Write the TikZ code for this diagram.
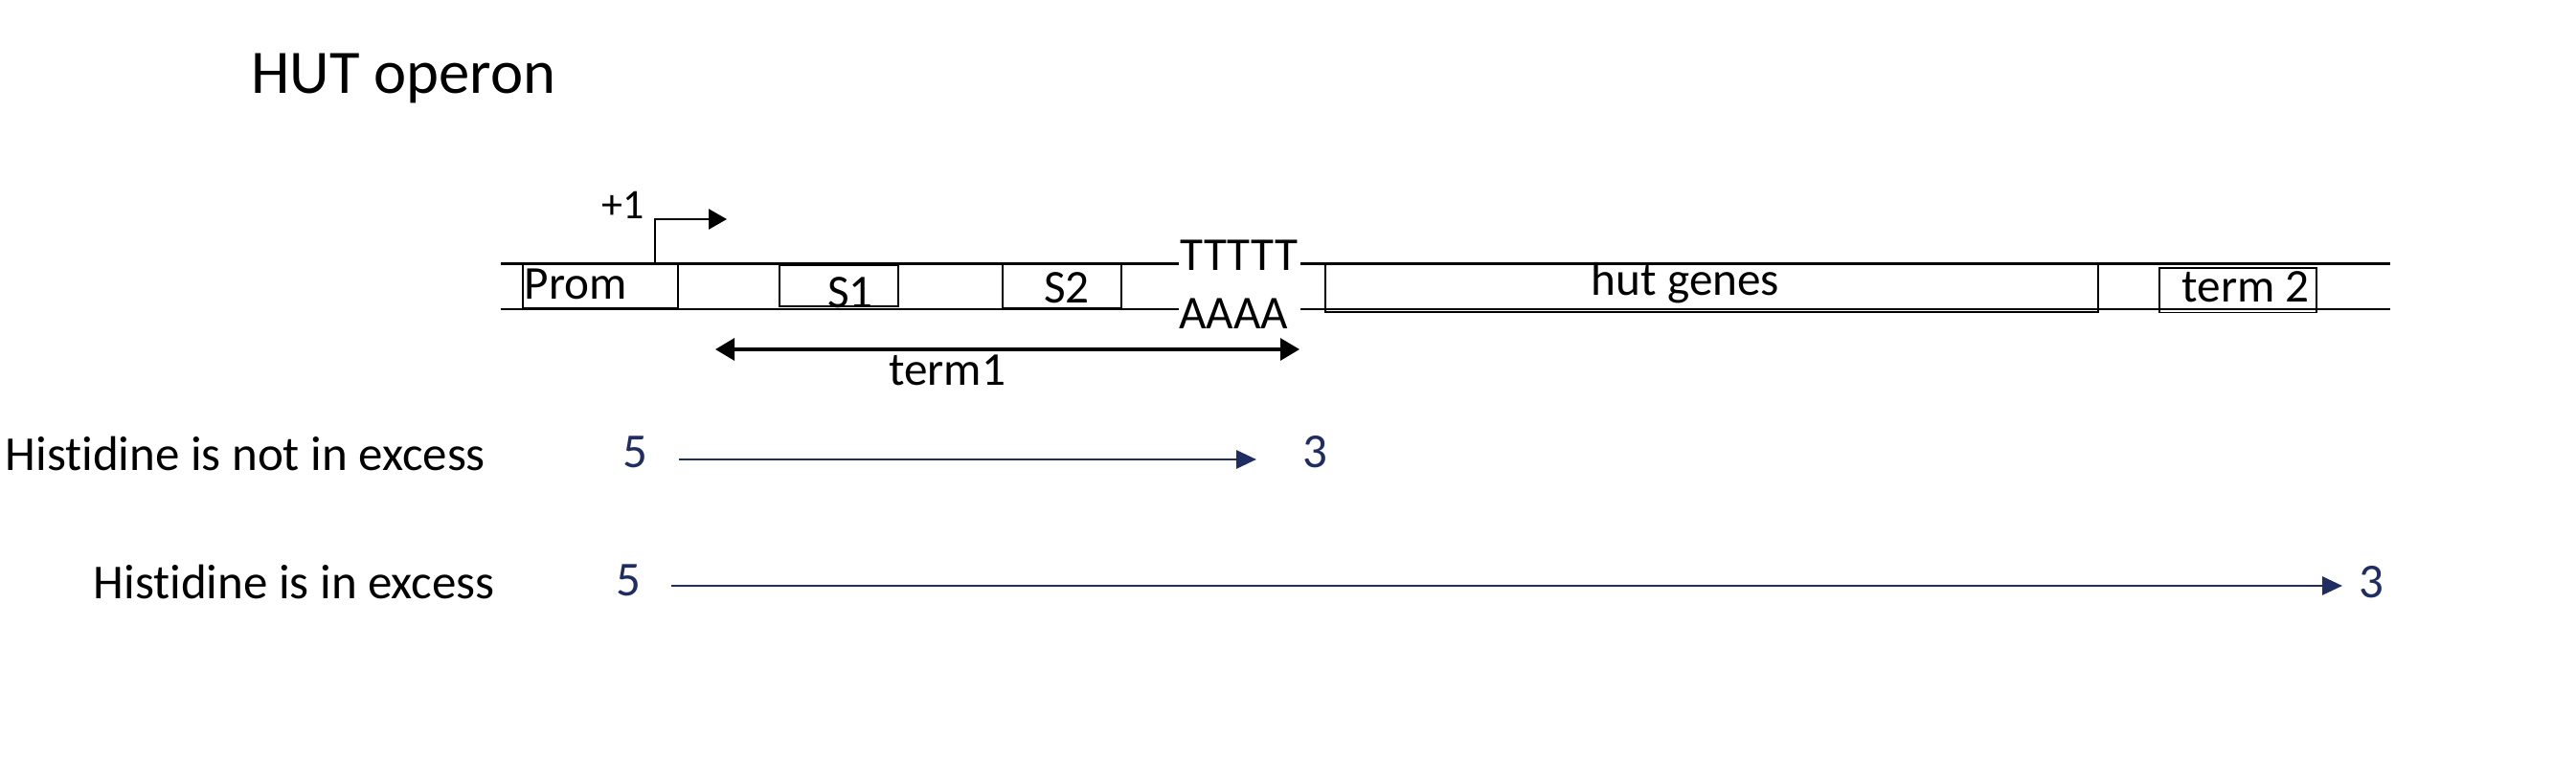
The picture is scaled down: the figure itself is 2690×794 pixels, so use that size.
\documentclass[tikz,border=0pt]{standalone}
\usepackage{fontspec}
\setmainfont{Carlito}[Ligatures=NoCommon]
\usetikzlibrary{arrows.meta}
\definecolor{ink}{HTML}{000000}
\definecolor{rnablue}{HTML}{1F2D63}
\tikzset{
  strand/.style={draw=ink, line width=0.7pt},
  gbox/.style={draw=ink, line width=0.55pt, inner sep=0pt, anchor=south west},
  lbl/.style={inner sep=0pt, anchor=base, font=\fontsize{14}{16}\selectfont},
  lblw/.style={lbl, anchor=base west},
  cond/.style={lblw, font=\fontsize{14.5}{17}\selectfont},
  digit/.style={lbl, text=rnablue, font=\fontsize{14.5}{17}\selectfont},
  span/.style={{Triangle[length=2mm, width=2.3mm]}-{Triangle[length=2mm, width=2.3mm]}, line width=0.9pt, draw=ink},
  tss/.style={-{Triangle[length=1.9mm, width=2.1mm]}, line width=0.75pt, draw=ink},
  rna/.style={-{Triangle[length=2.1mm, width=1.9mm]}, line width=0.85pt, draw=rnablue}
}

\begin{document}
\begin{tikzpicture}[x=0.1mm, y=-0.1mm]
  \useasboundingbox (0,0) rectangle (2690,794);

  \node[lblw, font=\fontsize{18.4}{22}\selectfont] (title) at (262,98) {HUT operon};

  % DNA double strand, broken by the terminator sequence
  \draw[strand] (523,275.5) -- (1231,275.5) (1358,275.5) -- (2496,275.5);
  \draw[strand] (523,323) -- (1231,323) (1358,323) -- (2496,323);

  % boxes on the DNA
  \node[gbox, minimum width=16.2mm, minimum height=4.75mm] (prom) at (545,323) {};
  \node[gbox, minimum width=12.4mm, minimum height=4.3mm] (s1) at (813,321) {};
  \node[gbox, minimum width=12.4mm, minimum height=4.75mm] (s2) at (1046,323) {};
  \node[gbox, minimum width=80.7mm, minimum height=5.15mm] (hut) at (1383,327) {};
  \node[gbox, minimum width=16.4mm, minimum height=4.65mm] (term2) at (2254,327.5) {};

  \node[lblw] (promtxt) at (547,313) {Prom};
  \node[lbl] (s1txt) at (888,322) {S1};
  \node[lbl] (s2txt) at (1114,317) {S2};
  \node[lbl] (ttxt) at (1294,283) {TTTTT};
  \node[lbl] (atxt) at (1288,344) {AAAA};
  \node[lbl] (huttxt) at (1760,309) {hut genes};
  \node[lbl] (term2txt) at (2345,316) {term 2};

  % transcription start
  \node[lblw, font=\fontsize{12.5}{14}\selectfont] (plus1) at (628,229) {+1};
  \coordinate (tss0) at (634,275.5);
  \coordinate (tss1) at (684,229);
  \coordinate (tss2) at (759,229);
  \draw[tss] (tss0) -| (tss1) -- (tss2);

  % terminator 1
  \coordinate (t1l) at (747,365);
  \coordinate (t1r) at (1357,365);
  \draw[span] (t1l) -- (t1r);
  \node[lbl] (term1txt) at (989,403) {term1};

  % transcripts
  \node[cond] (cond1) at (5,492) {Histidine is not in excess};
  \node[digit] (five1) at (663,489) {5};
  \node[digit] (three1) at (1373,489) {3};
  \coordinate (r1s) at (709,480);
  \coordinate (r1e) at (1312,480);
  \draw[rna] (r1s) -- (r1e);

  \node[cond] (cond2) at (97,626) {Histidine is in excess};
  \node[digit] (five2) at (656,623) {5};
  \node[digit] (three2) at (2476,625) {3};
  \coordinate (r2s) at (701,612);
  \coordinate (r2e) at (2446,612);
  \draw[rna] (r2s) -- (r2e);
\end{tikzpicture}
\end{document}
